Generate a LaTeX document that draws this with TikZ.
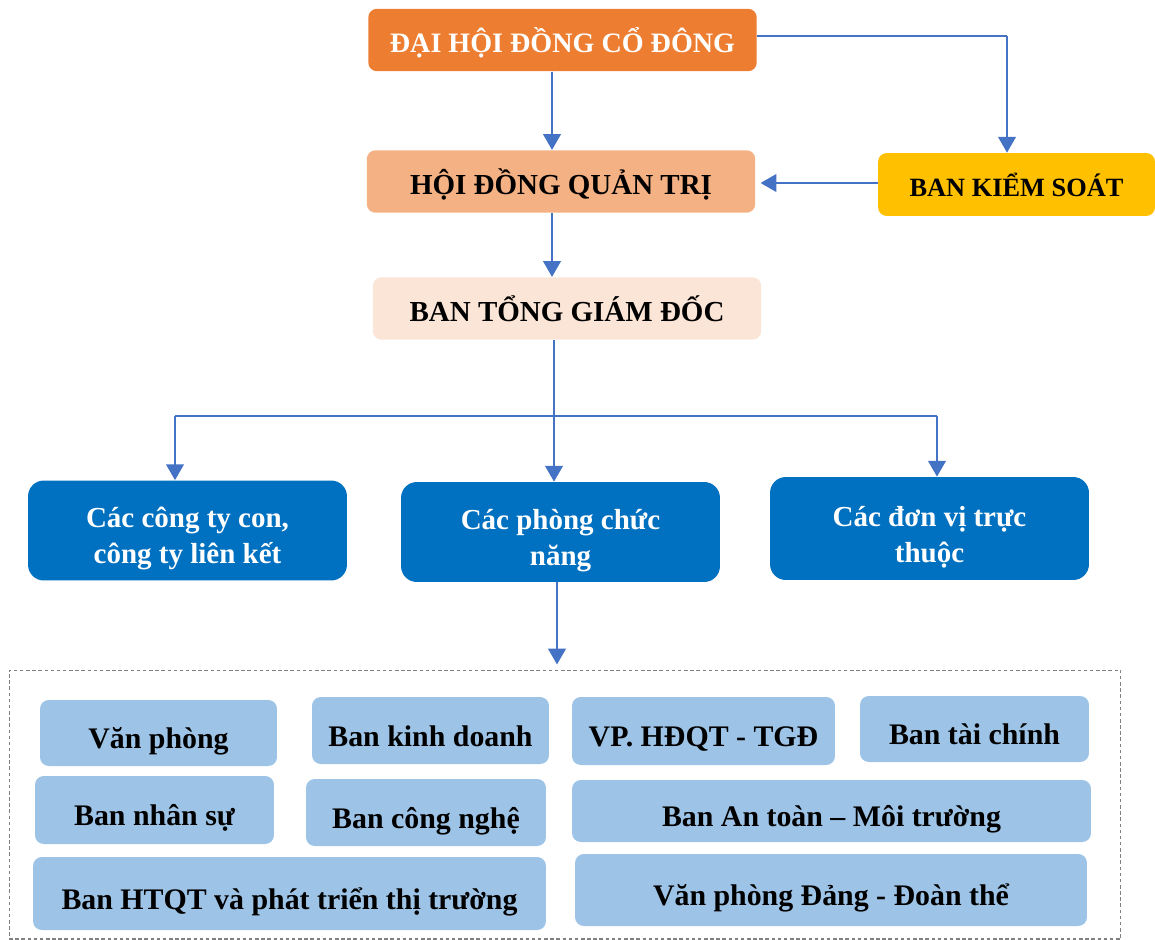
\documentclass[tikz,border=0pt]{standalone}
\usepackage{fontspec}
\setmainfont{Liberation Serif}
\usepackage{tikz}
\usetikzlibrary{arrows, arrows.meta}
\definecolor{cam}{HTML}{ED7D31}
\definecolor{camnhat}{HTML}{F4B183}
\definecolor{hongnhat}{HTML}{FBE5D6}
\definecolor{vang}{HTML}{FFC000}
\definecolor{xanh}{HTML}{0070C0}
\definecolor{xanhnhat}{HTML}{9DC3E6}
\definecolor{muiten}{HTML}{4472C4}
\newcommand{\dongdau}{\rule{0pt}{21pt}}

\begin{document}
\begin{tikzpicture}[x=0.02cm, y=-0.02cm,
  >={Triangle[width=10pt,length=9pt]},
  box/.style={rounded corners=5pt, inner sep=1pt, align=center,
    font=\bfseries\fontsize{16}{19}\selectfont},
  topbox/.style={box, minimum width=7.77cm, minimum height=1.25cm,
    text height=18pt, text depth=3.2pt},
  donvi/.style={box, fill=xanh, text=white, rounded corners=9pt,
    minimum width=6.38cm, minimum height=2cm,
    font=\bfseries\fontsize{16.5}{20.5}\selectfont},
  phong/.style={box, fill=xanhnhat, font=\bfseries\fontsize{17}{20}\selectfont,
    text height=21.5pt, text depth=3.7pt},
  arr/.style={->, draw=muiten, fill=muiten, line width=1.3pt},
  thinline/.style={draw=muiten, line width=0.7pt}]

 \useasboundingbox (0,0) rectangle (1155,939);

 % tang tren
 \node[topbox, fill=cam, text=white] (dhdcd) at (562.5,40) {ĐẠI HỘI ĐỒNG CỔ ĐÔNG};
 \node[topbox, fill=camnhat, font=\bfseries\fontsize{16.5}{19}\selectfont] (hdqt) at (561,181.5) {HỘI ĐỒNG QUẢN TRỊ};
 \node[box, fill=vang, minimum width=5.54cm, minimum height=1.26cm,
   text height=17pt, text depth=3pt,
   font=\bfseries\fontsize{15}{18}\selectfont] (bks) at (1016.5,184.5) {BAN KIỂM SOÁT};
 \node[topbox, fill=hongnhat, font=\bfseries\fontsize{16.5}{19}\selectfont] (btgd) at (567,308.5) {BAN TỔNG GIÁM ĐỐC};

 % cac don vi
 \node[donvi] (ctycon) at (187.5,530.5) {\dongdau Các công ty con,\\công ty liên kết};
 \node[donvi] (pcn) at (560.5,532) {\dongdau Các phòng chức\\năng};
 \node[donvi, minimum height=2.06cm] (dvtt) at (929.5,528.5) {\dongdau Các đơn vị trực\\thuộc};

 % khung cac phong ban
 \node[draw=gray, dashed, dash pattern=on 2pt off 1.5pt, line width=0.6pt,
   minimum width=22.24cm, minimum height=5.38cm] (khung) at (565,804.5) {};

 \node[phong, minimum width=4.74cm, minimum height=1.32cm] (vanphong) at (158.5,733) {Văn phòng};
 \node[phong, minimum width=4.74cm, minimum height=1.34cm] (kinhdoanh) at (430.5,730.5) {Ban kinh doanh};
 \node[phong, minimum width=5.26cm, minimum height=1.36cm] (vphdqt) at (703.5,731) {VP. HĐQT - TGĐ};
 \node[phong, minimum width=4.58cm, minimum height=1.32cm] (taichinh) at (974.5,729) {Ban tài chính};
 \node[phong, minimum width=4.78cm, minimum height=1.36cm] (nhansu) at (154.5,810) {Ban nhân sự};
 \node[phong, minimum width=4.8cm, minimum height=1.34cm] (congnghe) at (426,812.5) {Ban công nghệ};
 \node[phong, minimum width=10.38cm, minimum height=1.24cm] (antoan) at (831.5,811) {Ban An toàn – Môi trường};
 \node[phong, minimum width=10.26cm, minimum height=1.46cm] (htqt) at (289.5,893.5) {Ban HTQT và phát triển thị trường};
 \node[phong, minimum width=10.24cm, minimum height=1.44cm] (dangdoan) at (831,890) {Văn phòng Đảng - Đoàn thể};

 % mui ten
 \draw[arr] ([xshift=-0.21cm]dhdcd.south) -- ([xshift=-0.21cm]dhdcd.south |- hdqt.north);
 \coordinate (kx) at ([xshift=-0.19cm]bks.north);
 \coordinate (ky) at ([yshift=0.08cm]dhdcd.east);
 \draw[thinline] (ky) -- (kx |- ky);
 \draw[arr] (kx |- ky) -- (kx);
 \draw[arr] ([yshift=0.03cm]bks.west) -- ([yshift=0.03cm,xshift=0.1cm]bks.west -| hdqt.east);
 \draw[arr] ([xshift=-0.18cm]hdqt.south) -- ([xshift=-0.18cm]hdqt.south |- btgd.north);

 \coordinate (bus) at (0,416);
 \coordinate (tx) at ([xshift=-0.26cm]btgd.south);
 \coordinate (lx) at ([xshift=-0.25cm]ctycon.north);
 \coordinate (rx) at ([xshift=0.15cm]dvtt.north);
 \draw[arr] (tx) -- (tx |- pcn.north);
 \draw[thinline] (lx |- bus) -- (rx |- bus);
 \draw[arr] (lx |- bus) -- (lx);
 \draw[arr] (rx |- bus) -- (rx);

 \draw[arr, shorten >=0.1cm] ([xshift=-0.07cm]pcn.south) -- ([xshift=-0.07cm]pcn.south |- khung.north);

\end{tikzpicture}
\end{document}
